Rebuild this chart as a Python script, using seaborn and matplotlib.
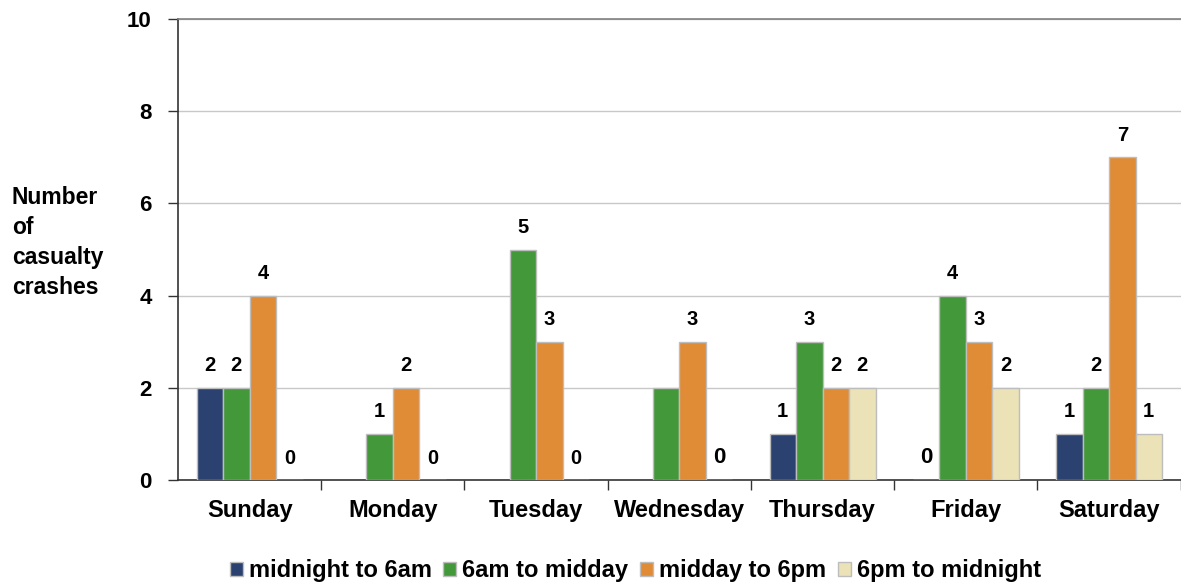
import numpy as np
import pandas as pd
import matplotlib
matplotlib.use("Agg")
import matplotlib.pyplot as plt
import seaborn as sns

days = ["Sunday", "Monday", "Tuesday", "Wednesday", "Thursday", "Friday", "Saturday"]
series = ["midnight to 6am", "6am to midday", "midday to 6pm", "6pm to midnight"]
nan = np.nan
midnight_6am = [2, nan, nan, nan, 1, 0, 1]
am_midday = [2, 1, 5, 2, 3, 4, 2]
midday_6pm = [4, 2, 3, 3, 2, 3, 7]
pm_midnight = [0, 0, 0, 0, 2, 2, 1]
# data labels as shown (empty = no label)
lab_midnight_6am = ["2", "", "", "", "1", "0", "1"]
lab_am_midday = ["2", "1", "5", "", "3", "4", "2"]
lab_midday_6pm = ["4", "2", "3", "3", "2", "3", "7"]
lab_pm_midnight = ["0", "0", "0", "0", "2", "2", "1"]
big_labels = {(3, 3), (5, 0)}  # (day, series) labels drawn larger
colors = ["#2B4170", "#43983A", "#E08B35", "#EBE2B8"]
yticks = [0, 2, 4, 6, 8, 10]

values = [midnight_6am, am_midday, midday_6pm, pm_midnight]
labels = [lab_midnight_6am, lab_am_midday, lab_midday_6pm, lab_pm_midnight]
rows = []
for s, vals in zip(series, values):
    for d, v in zip(days, vals):
        rows.append({"day": d, "period": s, "count": v})
df = pd.DataFrame(rows)

sns.set_theme(style="white")
plt.rcParams["font.family"] = ["Liberation Sans", "DejaVu Sans"]
plt.rcParams["font.weight"] = "bold"
plt.rcParams["text.color"] = "black"
plt.rcParams["xtick.color"] = "black"
plt.rcParams["ytick.color"] = "black"

fig = plt.figure(figsize=(11.81, 5.84), dpi=100)
ax = fig.add_axes([0.1507, 0.178, 0.849, 0.7895])

sns.barplot(data=df, x="day", y="count", hue="period", order=days,
            hue_order=series, palette=colors, width=0.74, gap=0,
            edgecolor="#BDBDBD", linewidth=1.0, saturation=1,
            ax=ax, legend=True, zorder=3)

ax.set_ylim(0, 10)
ax.set_xlim(-0.5, len(days) - 0.5)
ax.set_yticks(yticks)
ax.set_yticklabels([str(t) for t in yticks], fontsize=16, fontweight="bold")
ax.grid(axis="y", color="#C8C8C8", linewidth=1.0, zorder=0)
ax.set_axisbelow(True)
ax.spines["right"].set_visible(False)
ax.spines["top"].set_color("#808080")
ax.spines["top"].set_linewidth(1.2)
ax.spines["left"].set_color("#333333")
ax.spines["bottom"].set_color("#333333")
ax.spines["left"].set_linewidth(1.2)
ax.spines["bottom"].set_linewidth(1.2)
ax.tick_params(axis="y", which="major", direction="out", length=7, width=1, color="#333333", left=True, pad=12)
ax.tick_params(axis="x", which="major", length=0, pad=14)
ax.set_xticks(np.arange(len(days)) + 0.5, minor=True)
ax.tick_params(axis="x", which="minor", direction="out", length=7, width=1, color="#333333", bottom=True)
ax.set_xticklabels(days, fontsize=17, fontweight="bold")
ax.set_xlabel("")
ax.set_ylabel("")

fig.text(0.01, 0.585, "Number\nof\ncasualty\ncrashes", fontsize=16.5, fontweight="bold",
         ha="left", va="center", linespacing=1.4, color="black")

# data labels
for si, cont in enumerate(ax.containers):
    for bar in cont:
        h = bar.get_height()
        if np.isnan(h):
            continue
        xc = bar.get_x() + bar.get_width() / 2
        di = int(round(xc))
        txt = labels[si][di]
        if not txt:
            continue
        fs = 16 if (di, si) in big_labels else 14.5
        ax.annotate(txt, (xc, h), xytext=(0, 9), textcoords="offset points",
                    ha="center", va="bottom", fontsize=fs, fontweight="bold", color="black")

leg = ax.get_legend()
handles = leg.legend_handles
leg.remove()
fig.legend(handles, series, loc="center", bbox_to_anchor=(0.538, 0.023), ncol=4,
           frameon=False, handlelength=0.55, handleheight=0.55,
           handletextpad=0.25, columnspacing=0.5, prop={"weight": "bold", "size": 17})

fig.savefig("out.png", dpi=100)
